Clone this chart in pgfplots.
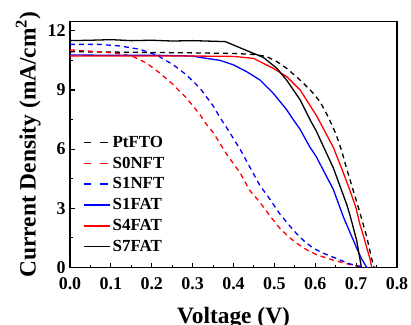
\documentclass[border=0pt]{standalone}
\usepackage{pgfplots}
\pgfplotsset{compat=1.18}
\usepackage{fontspec}
\setmainfont{Liberation Serif}
\begin{document}
\begin{tikzpicture}
\begin{axis}[
  scale only axis, width=327bp, height=246bp,
  xmin=0, xmax=0.8, ymin=0, ymax=12.47,
  xtick={0,0.1,...,0.8}, ytick={0,3,6,9,12},
  minor x tick num=1, minor y tick num=1,
  xtick pos=bottom, ytick pos=left,
  tick align=inside,
  major tick length=5bp, minor tick length=3bp,
  axis line style={line width=1.5bp},
  every tick/.style={line width=1.1bp, black},
  /pgf/number format/assume math mode=true,
  xticklabel style={/pgf/number format/.cd, fixed, fixed zerofill, precision=1, /tikz/.cd, yshift=-7bp},
  yticklabel style={xshift=-1bp},
  tick label style={font=\bfseries\fontsize{18}{18}\selectfont},
  label style={font=\bfseries\fontsize{23.5}{23.5}\selectfont},
  xlabel={Voltage (V)},
  xlabel style={at={(axis description cs:0.5,0)}, anchor=north, yshift=-36bp},
  ylabel={Current Density (mA/cm\textsuperscript{2})},
  legend style={draw=none, fill=none, font=\bfseries\fontsize{17}{17}\selectfont,
    at={(0.031,0.552)}, anchor=north west, row sep=4.2bp,
    /tikz/every even column/.append style={column sep=3bp}},
  legend cell align=left,
  legend image code/.code={\draw[#1, line width=1.3bp] (0bp,0bp) -- (26bp,0bp);},
  every axis plot/.append style={line width=1.3bp, line join=round},
]
\addplot[black, dash pattern=on 5bp off 4bp, legend image post style={dash pattern=on 7.5bp off 9bp}] coordinates {
(0,10.94)(0.1,10.92)(0.2,10.9)(0.3,10.88)(0.4,10.85)(0.45,10.8)(0.48,10.7)(0.506,10.44)(0.53,10.1)(0.563,9.5)(0.59,8.95)(0.612,8.4)(0.63,7.7)(0.65,6.8)(0.665,5.9)(0.677,5.0)(0.693,3.9)(0.709,2.8)(0.726,1.55)(0.738,0.45)(0.744,0)};
\addlegendentry{PtFTO}
\addplot[red, dash pattern=on 5bp off 4bp, legend image post style={dash pattern=on 7.5bp off 9bp}] coordinates {
(0,11.03)(0.04,10.98)(0.114,10.86)(0.155,10.69)(0.188,10.35)(0.22,9.85)(0.253,9.26)(0.285,8.59)(0.318,7.75)(0.334,7.25)(0.351,6.82)(0.383,5.75)(0.416,4.8)(0.44,3.9)(0.465,3.3)(0.489,2.62)(0.515,1.95)(0.538,1.5)(0.563,1.11)(0.579,0.9)(0.603,0.65)(0.644,0.37)(0.685,0.15)(0.701,0.08)(0.72,0)};
\addlegendentry{S0NFT}
\addplot[blue, dash pattern=on 5bp off 4bp, legend image post style={dash pattern=on 7.5bp off 9bp}] coordinates {
(0,11.31)(0.073,11.31)(0.122,11.23)(0.171,11.06)(0.212,10.77)(0.253,10.27)(0.285,9.76)(0.318,9.09)(0.351,8.17)(0.367,7.6)(0.383,7.1)(0.416,6.0)(0.449,4.75)(0.465,4.14)(0.481,3.7)(0.514,2.7)(0.538,2.1)(0.555,1.7)(0.575,1.3)(0.595,0.98)(0.62,0.72)(0.644,0.52)(0.685,0.18)(0.701,0.1)(0.72,0)};
\addlegendentry{S1NFT}
\addplot[blue] coordinates {
(0,10.77)(0.1,10.76)(0.2,10.76)(0.3,10.72)(0.318,10.65)(0.367,10.5)(0.4,10.27)(0.432,9.93)(0.465,9.5)(0.497,8.84)(0.53,8.0)(0.546,7.5)(0.563,7.0)(0.587,6.1)(0.603,5.6)(0.628,4.6)(0.644,3.97)(0.669,2.55)(0.685,1.78)(0.701,1.0)(0.713,0.45)(0.726,0)};
\addlegendentry{S1FAT}
\addplot[red] coordinates {
(0,10.72)(0.1,10.72)(0.2,10.72)(0.3,10.72)(0.4,10.7)(0.449,10.6)(0.497,10.1)(0.53,9.68)(0.563,9.0)(0.603,7.7)(0.644,6.1)(0.665,5.0)(0.685,3.9)(0.70,3.0)(0.709,2.2)(0.718,1.6)(0.726,1.0)(0.734,0.44)(0.738,0)};
\addlegendentry{S4FAT}
\addplot[black] coordinates {
(0,11.5)(0.05,11.52)(0.1,11.55)(0.15,11.5)(0.2,11.52)(0.25,11.48)(0.3,11.5)(0.35,11.47)(0.38,11.45)(0.432,11.0)(0.473,10.65)(0.506,10.1)(0.53,9.5)(0.563,8.5)(0.587,7.5)(0.603,6.9)(0.612,6.49)(0.644,5.06)(0.677,3.2)(0.685,2.65)(0.701,1.4)(0.713,0)};
\addlegendentry{S7FAT}
\end{axis}
\pgfresetboundingbox
\path[use as bounding box] (-70bp,-57.5bp) rectangle (341bp,267.5bp);
\end{tikzpicture}
\end{document}
